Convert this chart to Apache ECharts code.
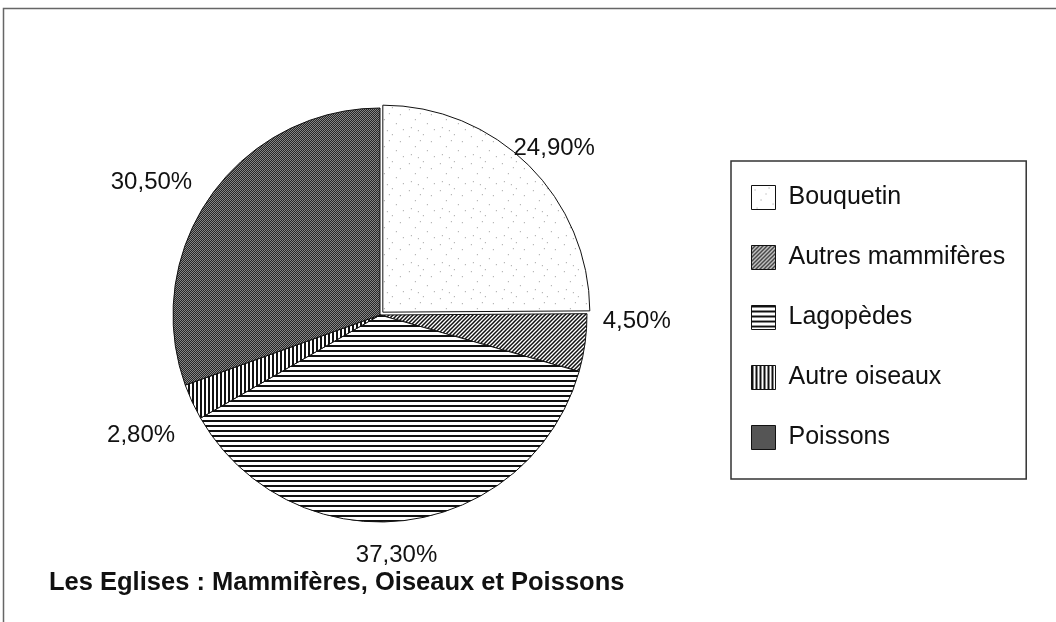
<!DOCTYPE html>
<html>
<head>
<meta charset="utf-8">
<style>
  html, body { margin: 0; padding: 0; background: #fff; }
  #chart { width: 1056px; height: 622px; }
</style>
<script src="https://cdn.jsdelivr.net/npm/echarts@6/dist/echarts.min.js"></script>
</head>
<body>
<div id="chart"></div>
<script>
// ---- data ----
const CATEGORIES = ['Bouquetin', 'Autres mammifères', 'Lagopèdes', 'Autre oiseaux', 'Poissons'];
const VALUES = [24.9, 4.5, 37.3, 2.8, 30.5];
const LABELS = ['24,90%', '4,50%', '37,30%', '2,80%', '30,50%'];
const EXPLODED = 'Bouquetin';
const TITLE = 'Les Eglises : Mammifères, Oiseaux et Poissons';

// ---- patterns (textures) ----
function tile(w, h, draw) {
  const c = document.createElement('canvas');
  c.width = w; c.height = h;
  const g = c.getContext('2d');
  draw(g, w, h);
  return { image: c, repeat: 'repeat' };
}
const speckle = tile(31, 27, (g, w, h) => {
  g.fillStyle = '#fff'; g.fillRect(0, 0, w, h);
  g.fillStyle = '#9a9a9a';
  [[3,4],[17,2],[25,9],[9,14],[21,18],[5,22],[28,24],[14,8],[12,25]].forEach(p => g.fillRect(p[0], p[1], 1, 1));
});
const diag = tile(4, 4, (g, w, h) => {
  g.fillStyle = '#fff'; g.fillRect(0, 0, w, h);
  g.strokeStyle = '#111'; g.lineWidth = 1.5;
  g.beginPath();
  g.moveTo(-1, 5); g.lineTo(5, -1);
  g.moveTo(-1, 1); g.lineTo(1, -1);
  g.moveTo(3, 5); g.lineTo(5, 3);
  g.stroke();
});
const horiz = tile(4, 5, (g, w, h) => {
  g.fillStyle = '#fff'; g.fillRect(0, 0, w, h);
  g.fillStyle = '#111'; g.fillRect(0, 0, w, 2);
});
const vert = tile(4, 4, (g, w, h) => {
  g.fillStyle = '#fff'; g.fillRect(0, 0, w, h);
  g.fillStyle = '#111'; g.fillRect(0, 0, 2, h);
});
const dither = tile(2, 2, (g, w, h) => {
  g.fillStyle = '#262626'; g.fillRect(0, 0, 2, 2);
  g.fillStyle = '#858585'; g.fillRect(0, 0, 1, 1); g.fillRect(1, 1, 1, 1);
});
const FILLS = [speckle, diag, horiz, vert, dither];

// label nudges (px) relative to a centred label at distance LABEL_R on the mid-angle
const CX = 380, CY = 315, R = 207, LABEL_R = 250;
const NUDGE = [[-2, 11], [9, -27], [-14, -8], [-12, 15], [-24, 11]];

const total = VALUES.reduce((a, b) => a + b, 0);
const midAngles = [];
let acc = 0;
VALUES.forEach(v => { midAngles.push(90 - (acc + v / 2) / total * 360); acc += v; });

const chart = echarts.init(document.getElementById('chart'), null, { renderer: 'canvas' });
const FONT = '"Liberation Sans", Arial, Helvetica, sans-serif';

chart.setOption({
  animation: false,
  backgroundColor: '#fff',
  title: {
    text: TITLE,
    left: 44, top: 565,
    textStyle: { fontFamily: FONT, fontSize: 25.5, fontWeight: 'bold', color: '#111' }
  },
  legend: {
    orient: 'vertical',
    left: 731, top: 161,
    padding: [24, 21, 29, 20],
    borderColor: '#333', borderWidth: 1.5,
    icon: 'rect',
    itemWidth: 24, itemHeight: 24, itemGap: 35,
    selectedMode: false,
    data: CATEGORIES,
    textStyle: { fontFamily: FONT, fontSize: 25, color: '#111', lineHeight: 24, padding: [0, 0, 0, 8] },
    itemStyle: { borderColor: '#111', borderWidth: 1 }
  },
  graphic: [{
    type: 'rect', silent: true, z: -10,
    shape: { x: 3.5, y: 8.5, width: 1200, height: 800 },
    style: { fill: null, stroke: '#666', lineWidth: 1.5 }
  }],
  series: [{
    // the visible slices
    type: 'pie',
    center: [CX, CY],
    radius: R,
    startAngle: 90,
    clockwise: true,
    selectedMode: 'single',
    selectedOffset: 4,
    emphasis: { disabled: true },
    select: { itemStyle: { borderColor: '#111', borderWidth: 1 } },
    itemStyle: { borderColor: '#111', borderWidth: 1 },
    label: { show: false },
    labelLine: { show: false },
    data: CATEGORIES.map((n, i) => ({
      name: n, value: VALUES[i], selected: n === EXPLODED,
      itemStyle: { color: FILLS[i] }
    }))
  }, {
    // transparent twin carrying the percentage labels
    type: 'pie',
    silent: true,
    center: [CX, CY],
    radius: R,
    startAngle: 90,
    clockwise: true,
    selectedMode: false,
    avoidLabelOverlap: false,
    emphasis: { disabled: true },
    itemStyle: { color: 'rgba(0,0,0,0)', borderWidth: 0 },
    labelLine: { show: false },
    label: {
      show: true, position: 'outside',
      fontFamily: FONT, fontSize: 24, color: '#111',
      formatter: p => LABELS[p.dataIndex]
    },
    labelLayout: function (p) {
      const i = p.dataIndex;
      const a = midAngles[i] * Math.PI / 180;
      return {
        x: CX + LABEL_R * Math.cos(a) + NUDGE[i][0],
        y: CY - LABEL_R * Math.sin(a) + NUDGE[i][1],
        align: 'center', verticalAlign: 'middle'
      };
    },
    data: CATEGORIES.map((n, i) => ({ name: n, value: VALUES[i] }))
  }]
});
</script>
</body>
</html>
